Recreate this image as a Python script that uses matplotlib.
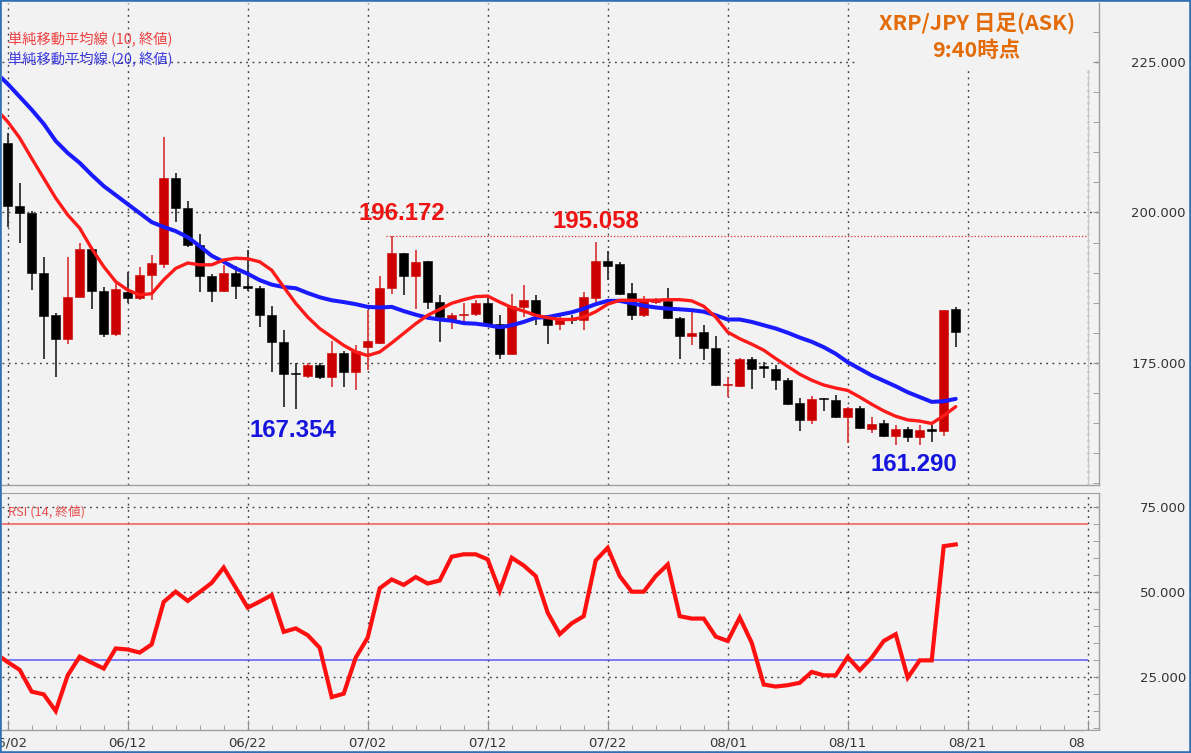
import numpy as np
import matplotlib
matplotlib.use('Agg')
import matplotlib.pyplot as plt
from matplotlib.patches import Rectangle
from matplotlib.lines import Line2D

# ---------------- data ----------------
date_labels = ['06/02', '06/12', '06/22', '07/02', '07/12', '07/22', '08/01', '08/11', '08/21', '08/31']

opens = [211.5, 201.0, 199.9, 190.0, 182.9, 178.9, 186.0, 194.0, 186.9, 179.8,
         186.8, 185.7, 189.6, 191.5, 205.7, 200.7, 194.6, 189.4, 186.9, 189.9,
         187.6, 187.5, 182.9, 178.5, 173.2, 172.8, 174.7, 172.7, 176.7, 173.4,
         177.6, 178.3, 187.4, 193.2, 189.4, 191.9, 185.1, 182.2, 182.9, 183.1,
         185.0, 181.5, 176.4, 184.3, 185.4, 182.75, 181.4, 182.3, 182.1, 185.7,
         191.9, 191.4, 186.6, 182.9, 185.1, 185.25, 182.5, 179.5, 180.1, 177.5,
         171.3, 171.2, 175.7, 174.3, 174.0, 172.2, 168.3, 165.5, 169.0, 168.75,
         166.0, 167.4, 164.0, 165.0, 162.9, 164.0, 162.6, 163.8, 163.6, 183.9]
highs = [213.2, 204.9, 200.2, 192.6, 183.3, 192.6, 195.0, 194.2, 187.6, 188.2,
         190.1, 191.0, 192.9, 212.6, 206.6, 201.9, 196.4, 189.8, 191.3, 191.1,
         193.7, 187.7, 184.4, 180.4, 174.9, 174.9, 175.0, 178.6, 176.9, 177.9,
         183.7, 189.4, 196.172, 193.3, 193.7, 192.0, 186.2, 183.2, 184.9, 185.5,
         186.0, 183.0, 186.4, 188.0, 186.25, 182.9, 182.7, 182.9, 186.8, 195.058,
         193.6, 191.7, 188.3, 186.1, 185.8, 187.4, 182.6, 183.5, 181.25, 179.4,
         172.6, 175.8, 176.0, 175.1, 174.6, 172.4, 169.2, 169.4, 169.1, 169.6,
         167.6, 167.8, 165.9, 165.4, 164.6, 164.4, 164.6, 164.6, 183.75, 184.2]
lows = [197.6, 194.9, 187.1, 175.7, 172.6, 178.1, 185.9, 184.0, 179.3, 179.4,
        185.0, 185.5, 185.4, 190.7, 198.5, 194.2, 186.8, 185.1, 186.7, 185.6,
        186.9, 181.0, 173.5, 167.6, 167.354, 172.4, 172.3, 171.0, 171.0, 170.4,
        173.8, 178.2, 186.5, 186.3, 184.0, 184.0, 178.5, 180.7, 181.3, 182.8,
        181.3, 175.7, 176.3, 182.6, 181.25, 178.1, 180.5, 181.5, 180.4, 185.1,
        188.75, 186.2, 182.2, 182.6, 184.8, 182.3, 175.7, 177.9, 175.5, 171.2,
        169.3, 171.0, 170.7, 172.5, 170.4, 167.9, 163.6, 164.9, 167.0, 165.8,
        161.6, 164.0, 163.3, 162.6, 161.4, 161.8, 161.29, 161.8, 162.9, 177.6]
closes = [201.0, 199.9, 190.0, 182.8, 178.9, 186.0, 194.0, 186.9, 179.8, 187.2,
          185.7, 189.6, 191.6, 205.7, 200.7, 194.6, 189.4, 186.9, 189.9, 187.7,
          187.5, 182.9, 178.5, 173.1, 173.1, 174.7, 172.6, 176.7, 173.4, 177.0,
          178.6, 187.5, 193.2, 189.4, 191.8, 185.1, 182.6, 182.9, 183.1, 184.9,
          181.5, 176.4, 184.4, 185.5, 182.9, 181.25, 182.4, 182.2, 185.9, 192.0,
          191.1, 186.4, 182.9, 185.4, 185.5, 182.4, 179.4, 180.0, 177.5, 171.25,
          171.5, 175.7, 174.0, 174.2, 172.2, 168.2, 165.5, 168.9, 168.9, 166.0,
          167.4, 164.2, 164.9, 162.9, 164.0, 162.6, 163.9, 163.7, 183.75, 180.1]

# moving averages and RSI, first value is the (off-screen) day before 06/02
sma10 = [217.3, 215.1, 212.4, 209.0, 205.7, 202.4, 199.6, 197.4, 194.0, 191.0, 188.5,
         187.1, 186.3, 186.5, 188.8, 190.7, 191.6, 191.3, 191.3, 192.1, 192.4,
         192.3, 191.8, 190.4, 187.6, 184.9, 182.6, 180.7, 179.3, 177.9, 176.8,
         176.2, 176.8, 178.3, 179.9, 181.5, 182.9, 183.9, 184.9, 185.5, 186.0,
         186.1, 185.1, 184.2, 183.6, 182.9, 182.5, 182.2, 182.2, 182.6, 183.5,
         184.75, 185.4, 185.4, 185.4, 185.4, 185.5, 185.5, 185.3, 184.4, 182.6,
         180.1, 179.0, 178.1, 177.1, 175.7, 174.4, 173.1, 172.1, 171.3, 170.8,
         170.4, 169.3, 168.1, 167.0, 166.1, 165.5, 165.3, 164.9, 166.2, 167.7]
sma20 = [223.3, 221.4, 219.25, 217.1, 214.75, 211.9, 209.9, 208.25, 206.25, 204.4, 202.9,
         201.4, 199.9, 198.4, 197.6, 196.9, 195.9, 194.4, 192.8, 191.8, 190.7,
         189.8, 188.75, 188.0, 187.6, 187.4, 186.6, 185.9, 185.4, 185.1, 184.75,
         184.3, 184.2, 184.3, 183.6, 183.0, 182.5, 182.2, 182.0, 181.6, 181.5,
         181.25, 180.9, 181.25, 181.8, 182.5, 182.6, 183.0, 183.4, 184.0, 184.75,
         185.3, 185.3, 184.9, 184.5, 184.2, 184.0, 183.9, 183.75, 183.5, 182.9,
         182.2, 182.2, 181.8, 181.25, 180.7, 180.0, 179.2, 178.5, 177.6, 176.5,
         175.1, 174.0, 172.9, 172.0, 171.1, 170.1, 169.3, 168.5, 168.6, 169.0]
rsi = [31.8, 29.3, 27.0, 20.6, 19.8, 14.9, 25.4, 30.9, 29.1, 27.4, 33.3,
       33.0, 32.1, 34.5, 47.0, 50.0, 47.3, 49.9, 52.6, 57.1, 51.2,
       45.3, 47.1, 49.0, 38.2, 39.2, 37.2, 33.5, 19.0, 20.0, 30.6,
       36.5, 51.0, 53.6, 52.0, 54.3, 52.4, 53.3, 60.3, 61.0, 61.0,
       59.5, 50.2, 60.0, 57.7, 54.6, 43.8, 37.5, 40.7, 42.8, 59.2,
       62.9, 54.6, 50.0, 50.0, 54.6, 58.0, 42.8, 42.1, 42.1, 36.8,
       35.5, 42.4, 35.0, 22.7, 22.1, 22.5, 23.2, 26.4, 25.4, 25.4,
       30.8, 26.9, 30.6, 35.5, 37.5, 24.7, 29.8, 29.8, 63.4, 63.9]

# candles whose high / low are annotated
marked_highs = [32, 49]
marked_lows = [24, 76]
level_line_idx = 32   # dotted line drawn from this candle's high

price_ticks = [175, 200, 225]
price_tick_labels = ['175.000', '200.000', '225.000']
rsi_ticks = [25, 50, 75]
rsi_tick_labels = ['25.000', '50.000', '75.000']
rsi_levels = [70, 30]

title_lines = ['XRP/JPY 日足(ASK)', '9:40時点']
legend_texts = ['単純移動平均線 (10, 終値)', '単純移動平均線 (20, 終値)']
rsi_text = 'RSI (14, 終値)'

# ---------------- figure ----------------
W, H = 1191, 753
BG = '#f2f2f2'
fig = plt.figure(figsize=(W / 100, H / 100), dpi=100)
fig.patch.set_facecolor(BG)
CJK = ['Noto Sans CJK JP', 'DejaVu Sans']


def fx(px):
    return px / W


def fy(py):
    return 1 - py / H


ax = fig.add_axes([fx(2), fy(485), fx(1099) - fx(2), fy(3) - fy(485)])
ax2 = fig.add_axes([fx(2), fy(730), fx(1099) - fx(2), fy(493) - fy(730)])
for a in (ax, ax2):
    a.set_facecolor(BG)
    for s in ('left', 'top'):
        a.spines[s].set_visible(False)
    for s in ('right', 'bottom'):
        a.spines[s].set_color('#a0a0a0')
        a.spines[s].set_linewidth(1.0)
ax2.spines['top'].set_visible(True)
ax2.spines['top'].set_color('#a0a0a0')

o = np.array(opens)
hgh = np.array(highs)
low = np.array(lows)
c = np.array(closes)
n = len(o)
x = np.arange(n)
xm = np.arange(-1, n)
XL = (-0.475, 90.94)

grid_kw = dict(color='#3c3c3c', linewidth=1.0, linestyle=(0, (1.3, 3.2)))

# ----- price panel -----
ax.set_xlim(*XL)
ax.set_ylim(154.67, 234.85)
ax.set_xticks(np.arange(0, 91, 10))
ax.tick_params(axis='x', length=0, labelbottom=False)
ax.yaxis.tick_right()
ax.set_yticks(price_ticks, labels=price_tick_labels)
ax.set_yticks(np.arange(155, 235, 5), minor=True)
ax.tick_params(axis='y', which='both', direction='in', length=4, color='#909090',
               labelsize=9.5, labelcolor='#333333', pad=62.6)
plt.setp(ax.get_yticklabels(), ha='right')
ax.grid(True, which='major', **grid_kw)
ax.set_axisbelow(True)

up = c >= o
body_col = np.where(up, '#cc0000', '#000000')
wick_col = np.where(up, '#d84040', '#303030')
ax.vlines(x, low, hgh, colors=wick_col, linewidth=1.3, zorder=2)
bottom = np.minimum(o, c)
height = np.maximum(np.abs(c - o), 0.22)
ax.bar(x, height, bottom=bottom, width=0.78, color=body_col, edgecolor=body_col,
       linewidth=0.4, zorder=3)

ax.plot(xm, sma20, color='#1a1aff', linewidth=2.9, zorder=4, solid_capstyle='round')
ax.plot(xm, sma10, color='#ff1a1a', linewidth=2.4, zorder=5, solid_capstyle='round')

# dotted level line from the 07/04 high
ax.hlines(hgh[level_line_idx], level_line_idx - 0.45, 90.0, colors='#e53030', linewidth=0.9,
          linestyles=(0, (1, 1.6)), zorder=2)

# value annotations
ann_kw = dict(fontsize=17.3, fontweight='bold', family='Liberation Sans', ha='center', va='center', zorder=6)
ax.text(marked_highs[0] + 0.83, hgh[marked_highs[0]] + 3.71, f'{hgh[marked_highs[0]]:.3f}',
        color='#ee1414', **ann_kw)
ax.text(marked_highs[1] + 0.0, hgh[marked_highs[1]] + 3.39, f'{hgh[marked_highs[1]]:.3f}',
        color='#ee1414', **ann_kw)
ax.text(marked_lows[0] - 0.2, low[marked_lows[0]] - 3.55, f'{low[marked_lows[0]]:.3f}',
        color='#1414dd', **ann_kw)
ax.text(marked_lows[1] - 0.46, low[marked_lows[1]] - 3.24, f'{low[marked_lows[1]]:.3f}',
        color='#1414dd', **ann_kw)

# ----- RSI panel -----
ax2.set_xlim(*XL)
ax2.set_ylim(9.32, 79.03)
ax2.yaxis.tick_right()
ax2.set_yticks(rsi_ticks, labels=rsi_tick_labels)
ax2.set_yticks(np.arange(10, 80, 5), minor=True)
ax2.tick_params(axis='y', which='both', direction='in', length=4, color='#909090',
                labelsize=9.5, labelcolor='#333333', pad=62.6)
plt.setp(ax2.get_yticklabels(), ha='right')
ax2.set_xticks(np.arange(0, 91, 10), labels=date_labels)
ax2.set_xticks(np.arange(0, 91, 2), minor=True)
ax2.tick_params(axis='x', which='major', direction='in', length=7.5, color='#909090',
                labelsize=9.5, labelcolor='#333333', pad=5)
ax2.tick_params(axis='x', which='minor', direction='in', length=3.8, color='#909090')
ax2.grid(True, which='major', **grid_kw)
ax2.set_axisbelow(True)
ax2.hlines(rsi_levels[0], XL[0], 90.0, colors='#ec5a5a', linewidth=1.1, zorder=2)
ax2.hlines(rsi_levels[1], XL[0], 90.0, colors='#5a5af5', linewidth=1.1, zorder=2)
ax2.plot(xm, rsi, color='#ff1010', linewidth=3.0, zorder=4, solid_joinstyle='miter')

# ----- overlays in figure pixels -----
# title box hides the grid behind the title
fig.patches.append(Rectangle((fx(857), fy(70)), fx(1093) - fx(857), fy(3) - fy(70),
                             transform=fig.transFigure, facecolor=BG, edgecolor='none', zorder=1))
# clip the last date label like the reference
fig.patches.append(Rectangle((fx(1085), fy(752)), fx(1191) - fx(1085), fy(731) - fy(752),
                             transform=fig.transFigure, facecolor=BG, edgecolor='none', zorder=1))
fig.lines.append(Line2D([fx(1088), fx(1088)], [fy(70), fy(484)], transform=fig.transFigure,
                        color='#c8c8c8', linewidth=0.8, zorder=1))

fig.text(fx(977), fy(23), title_lines[0], ha='center', va='center', color='#e36c09',
         fontsize=15.5, fontweight='bold', family=CJK, zorder=5)
fig.text(fx(976), fy(50), title_lines[1], ha='center', va='center', color='#e36c09',
         fontsize=15.5, fontweight='bold', family=CJK, zorder=5)
fig.text(fx(8), fy(40), legend_texts[0], ha='left', va='center', color='#ee4040',
         fontsize=10.3, family=CJK, zorder=5)
fig.text(fx(8), fy(60), legend_texts[1], ha='left', va='center', color='#3a3ae0',
         fontsize=10.3, family=CJK, zorder=5)
fig.text(fx(8), fy(512), rsi_text, ha='left', va='center', color='#e85050',
         fontsize=9.2, family=CJK, zorder=5)

# outer blue frame
fig.patches.append(Rectangle((0, 0), 1, 1, transform=fig.transFigure, fill=False,
                             edgecolor='#2f6fb3', linewidth=2.6, zorder=10))

fig.savefig('out.png', dpi=100, facecolor=BG)
